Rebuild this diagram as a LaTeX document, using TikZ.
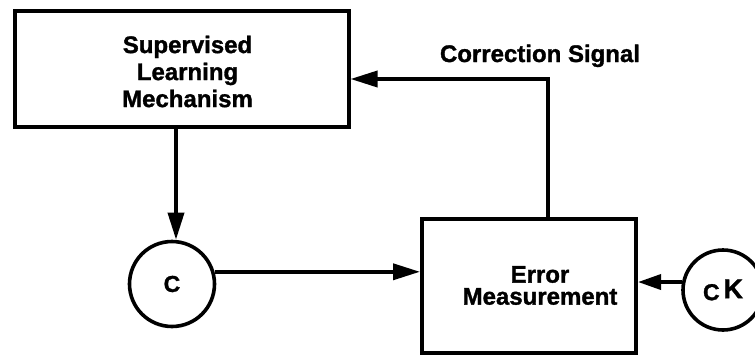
\documentclass[tikz,border=0pt]{standalone}
\usepackage{fontspec}
\setmainfont{Liberation Sans}[BoldFeatures={FakeBold=1.3}]
\usetikzlibrary{arrows.meta}
\begin{document}
\begin{tikzpicture}[x=1pt,y=-1pt,
  box/.style={draw, line width=4pt, inner sep=0pt},
  circ/.style={draw, circle, line width=3.6pt, minimum size=85pt, inner sep=0pt,
    font=\bfseries\fontsize{23}{23}\selectfont},
  lbl/.style={font=\bfseries\fontsize{24}{27}\selectfont, align=center},
  lbltwo/.style={font=\bfseries\fontsize{24}{22}\selectfont, align=center},
  conn/.style={line width=3.6pt, -{Triangle[length=27pt,width=16pt]}},
  shortconn/.style={line width=3.6pt, -{Triangle[length=23pt,width=15pt]}}]
\useasboundingbox (0,0) rectangle (755,356);
\node[box, minimum width=334pt, minimum height=116pt,
  label={[lbl, xshift=6pt, yshift=-3pt]center:{Supervised\\Learning\\Mechanism}}] (slm) at (181.5,68.5) {};
\node[box, minimum width=214pt, minimum height=134pt,
  label={[lbltwo, xshift=11pt]center:{Error\\Measurement}}] (err) at (529,285.5) {};
\node[circ] (c) at (172,284) {C};
\node[circ, minimum size=80pt] (ck) at (723,290) {C\,\raisebox{2pt}{\fontsize{27}{27}\selectfont K}};
\node[lbl, anchor=base] (cs) at (540,62) {Correction Signal};
\coordinate (corner) at (548,79);
\coordinate (vx) at (176,0);
\draw[conn] (err.north -| corner) -- (corner) -- (corner -| slm.east);
\draw[conn] (slm.south -| vx) -- (c.north -| vx);
\draw[conn] (c.16) -- (c.16 -| err.west);
\draw[shortconn] (ck.169) -- (ck.169 -| err.east);
\end{tikzpicture}
\end{document}
